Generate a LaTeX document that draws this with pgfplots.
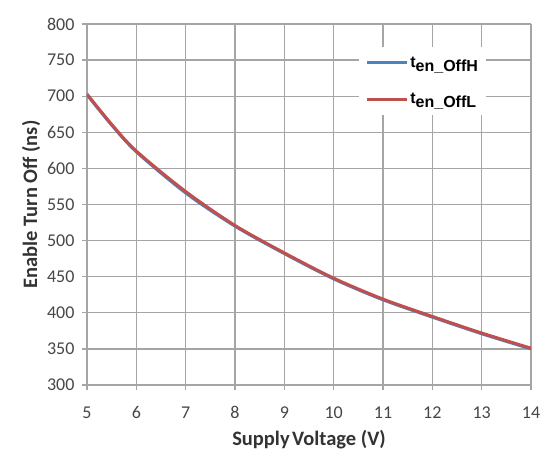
\documentclass[border=0pt]{standalone}
\usepackage{pgfplots}
\pgfplotsset{compat=1.18}
\usepackage{fontspec}
\setmainfont{Carlito}
\newfontfamily\arialfont{Liberation Sans}
\definecolor{gridgray}{RGB}{165,165,165}
\definecolor{xlblue}{RGB}{79,129,189}
\definecolor{xlred}{RGB}{192,80,77}
\definecolor{txt}{RGB}{70,70,70}
\begin{document}
\begin{tikzpicture}
\begin{axis}[
  at={(0pt,0pt)}, anchor=south west,
  scale only axis, width=444pt, height=361pt,
  xmin=5, xmax=14, ymin=300, ymax=800,
  xtick={5,...,14}, ytick={300,350,...,800},
  grid=major,
  major grid style={gridgray, line width=1.3pt},
  axis line style={gridgray, line width=1.5pt},
  tick style={gridgray, line width=1.3pt},
  tick align=outside, major tick length=5pt,
  axis x line*=bottom, axis y line*=left,
  separate axis lines,
  /pgf/number format/assume math mode=true,
  /pgf/number format/1000 sep={},
  ticklabel style={font=\fontsize{18}{20}\selectfont, text=txt},
  xticklabel style={yshift=-13pt},
  yticklabel style={xshift=-4pt},
  xlabel={\textbf{Supply\hspace{0.12em}Voltage (V)}},
  ylabel={\textbf{Enable Turn Off (ns)}},
  label style={font=\fontsize{20.5}{22}\selectfont, text=black!80},
  xlabel style={yshift=-4pt},
  ylabel style={yshift=0pt},
  legend style={at={(0.613,0.938)}, anchor=north west, draw=none, fill=white,
    font=\arialfont\bfseries\fontsize{16}{18}\selectfont,
    inner xsep=6pt, inner ysep=8pt, row sep=21pt},
  legend cell align=left,
  legend image code/.code={\draw[#1, line width=3pt] (0pt,0pt) -- (40pt,0pt);},
]
\addplot[xlblue, line width=3pt, smooth] coordinates {
(5,702) (5.5,660) (6,623) (7,566) (8,520) (9,482) (10,447) (11,418) (12,394) (13,371) (14,350)};
\addlegendentry{t\raisebox{-4pt}{en\_OffH}\hspace{18pt}}
\addplot[xlred, line width=3pt, smooth] coordinates {
(5,703) (5.5,661) (6,624) (7,568) (8,521) (9,483) (10,448) (11,419) (12,395) (13,372) (14,351)};
\addlegendentry{t\raisebox{-4pt}{en\_OffL}\hspace{18pt}}
\end{axis}
\pgfresetboundingbox
\path (-87pt,-74pt) rectangle (473pt,385pt);
\end{tikzpicture}
\end{document}
